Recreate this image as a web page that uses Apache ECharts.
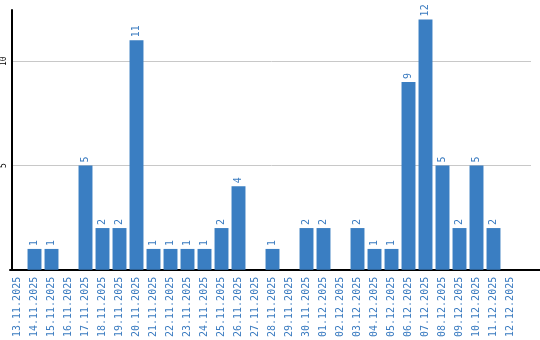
<!DOCTYPE html>
<html>
<head>
<meta charset="utf-8">
<script src="https://cdn.jsdelivr.net/npm/echarts@6/dist/echarts.min.js"></script>
<style>html,body{margin:0;padding:0;background:#fff}#c{width:540px;height:340px}</style>
</head>
<body>
<div id="c"></div>
<script>
var categories = ["13.11.2025","14.11.2025","15.11.2025","16.11.2025","17.11.2025","18.11.2025","19.11.2025","20.11.2025","21.11.2025","22.11.2025","23.11.2025","24.11.2025","25.11.2025","26.11.2025","27.11.2025","28.11.2025","29.11.2025","30.11.2025","01.12.2025","02.12.2025","03.12.2025","04.12.2025","05.12.2025","06.12.2025","07.12.2025","08.12.2025","09.12.2025","10.12.2025","11.12.2025","12.12.2025"];
var values = [0,1,1,0,5,2,2,11,1,1,1,1,2,4,0,1,0,2,2,0,2,1,1,9,12,5,2,5,2,0];
var yTicks = [5,10];

var blue = '#3a7ec2';
var textBlue = '#3a7bc0';
var font = 'DejaVu Sans Mono';
var yMax = 12.45;

var chart = echarts.init(document.getElementById('c'), null, {renderer:'canvas'});
chart.setOption({
  animation: false,
  grid: [
    {left: 9, width: 510, top: 10, bottom: 70},
    {left: 10, right: 9, top: 10, bottom: 70},
    {left: 10, right: 0, top: 10, bottom: 70}
  ],
  xAxis: [
    {type:'category', gridIndex:0, data: categories,
     axisLine:{show:false}, axisTick:{show:false},
     axisLabel:{rotate:90, interval:0, margin:7, color:textBlue, fontFamily:font, fontSize:10}},
    {type:'value', gridIndex:1, show:false},
    {type:'value', gridIndex:2, min:0, max:1, axisLine:{show:true, onZero:false, lineStyle:{color:'#000', width:2}},
     axisTick:{show:false}, axisLabel:{show:false}, splitLine:{show:false}}
  ],
  yAxis: [
    {type:'value', gridIndex:0, min:0, max:yMax, show:false},
    {type:'value', gridIndex:1, min:0, max:yMax, interval:5,
     axisLine:{show:true, lineStyle:{color:'#000', width:2}}, axisTick:{show:false},
     splitLine:{show:true, showMinLine:false, showMaxLine:false, lineStyle:{color:'#c8c8c8', width:1}},
     axisLabel:{rotate:90, margin:4, color:'#000', fontFamily:font, fontSize:8,
       formatter:function(v){return yTicks.indexOf(v)>=0 ? String(v) : '';}}},
    {type:'value', gridIndex:2, show:false}
  ],
  series: [{
    type:'bar', xAxisIndex:0, yAxisIndex:0, data: values,
    barCategoryGap:'18%',
    itemStyle:{color:blue},
    label:{show:true, position:'top', rotate:90, align:'left', verticalAlign:'middle', distance:3,
      color:textBlue, fontFamily:font, fontSize:10,
      formatter:function(p){return p.value>0 ? String(p.value) : '';}}
  }]
});
</script>
</body>
</html>
